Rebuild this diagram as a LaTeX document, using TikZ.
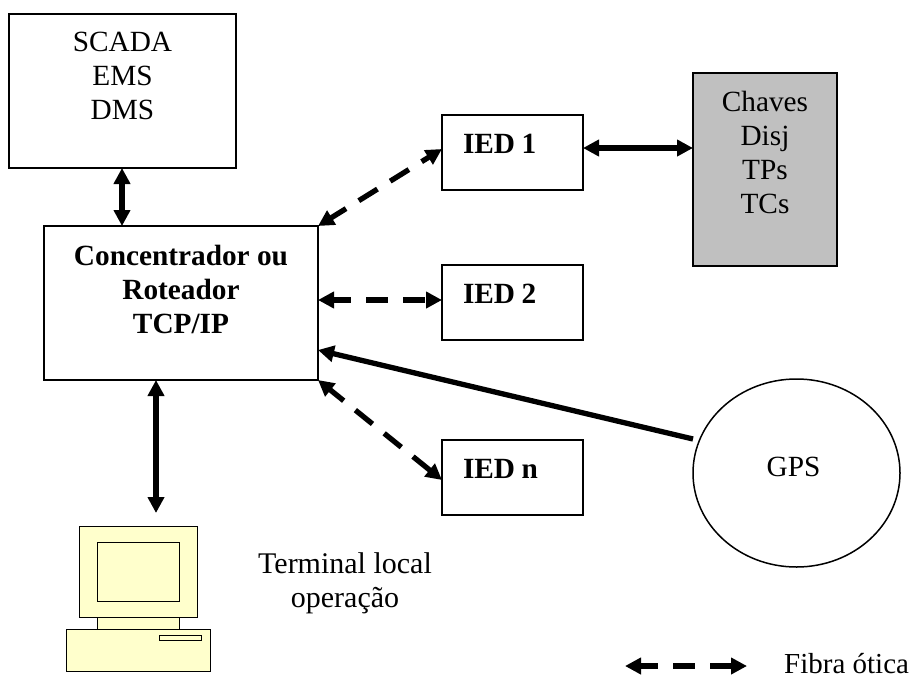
\documentclass[tikz,border=0pt]{standalone}
\usepackage{fontspec}
\setmainfont{Liberation Serif}
\usetikzlibrary{arrows.meta,shapes.geometric}
\definecolor{pcyellow}{RGB}{255,255,204}
\definecolor{boxgray}{RGB}{192,192,192}
\tikzset{
  x=1pt,y=-1pt,
  boxn/.style={draw=black,line width=1.7pt,outer sep=0pt,inner sep=0pt,anchor=north west,align=center,font=\fontsize{29.3}{34}\selectfont},
  iedbox/.style={boxn,bold text,align=left,text width=141pt,minimum height=75pt},
  bold text/.style={font=\fontsize{29.3}{34}\selectfont\bfseries},
  thick arrow/.style={line width=5.3pt,{Triangle[length=16pt,width=16pt]}-{Triangle[length=16pt,width=16pt]}},
  dash arrow/.style={thick arrow,dash pattern=on 22pt off 15pt,dash phase=4pt},
  pc/.style={draw=black,line width=1pt,fill=pcyellow},
  txt/.style={font=\fontsize{30}{34}\selectfont,align=center,inner sep=0pt}
}
\begin{document}
\begin{tikzpicture}
\useasboundingbox (0,0) rectangle (912,675);
\node[boxn,minimum width=227pt,minimum height=154pt] (scada) at (9,14) {SCADA\\EMS\\DMS\\[-4pt]\mbox{}};
\node[boxn,bold text,minimum width=274pt,minimum height=154pt] (conc) at (44,226) {Concentrador ou\\Roteador\\TCP/IP\\[-6pt]\mbox{}};
\node[iedbox] (ied1) at (442,115) {\hspace*{21pt}IED\hspace{6.5pt}1\\[-16pt]\mbox{}};
\node[iedbox] (ied2) at (442,265) {\hspace*{21pt}IED\hspace{6.5pt}2\\[-16pt]\mbox{}};
\node[iedbox] (iedn) at (442,440) {\hspace*{21pt}IED\hspace{6.5pt}n\\[-16pt]\mbox{}};
\node[boxn,minimum width=144pt,minimum height=193pt,fill=boxgray] (chaves) at (693,73) {Chaves\\Disj\\TPs\\TCs\\\mbox{}};
\node[draw=black,line width=1.5pt,ellipse,outer sep=0pt,minimum width=207pt,minimum height=188pt,inner sep=0pt,font=\fontsize{29.3}{34}\selectfont,align=center] (gps) at (796.5,473) {GPS\hspace*{6pt}\\[-22pt]\mbox{}};
\node[txt] (term) at (345,583) {Terminal local\\operação};
\node[txt,anchor=west,font=\fontsize{29}{34}\selectfont] (fibra) at (784,664) {Fibra ótica};
\coordinate (pctop) at (156,513);
\coordinate (lega) at (625,666);
\coordinate (legb) at (747,666);
\coordinate (gpsend) at (693,439);
\draw[thick arrow] (122,168) -- (122,226);
\draw[thick arrow] (ied1.east |- 0,148) -- (chaves.west |- 0,148);
\draw[dash arrow] (conc.north east) -- ([yshift=3.5pt]ied1.west);
\draw[dash arrow] (318,300) -- (ied2.west |- 0,300);
\draw[dash arrow] (conc.south east) -- ([yshift=-2.5pt]iedn.west);
\draw[line width=5.3pt,-{Triangle[length=16pt,width=16pt]}] (gpsend) -- (318,350);
\draw[thick arrow] (156,380) -- (pctop);
\draw[dash arrow] (lega) -- (legb);
\draw[pc] (97,617) rectangle (179,629);
\draw[pc] (79,526) rectangle (197,617);
\draw[pc] (97,542) rectangle (179,601);
\draw[pc] (66,629) rectangle (210,671);
\draw[pc] (159,635) rectangle (201,640);
\end{tikzpicture}
\end{document}
